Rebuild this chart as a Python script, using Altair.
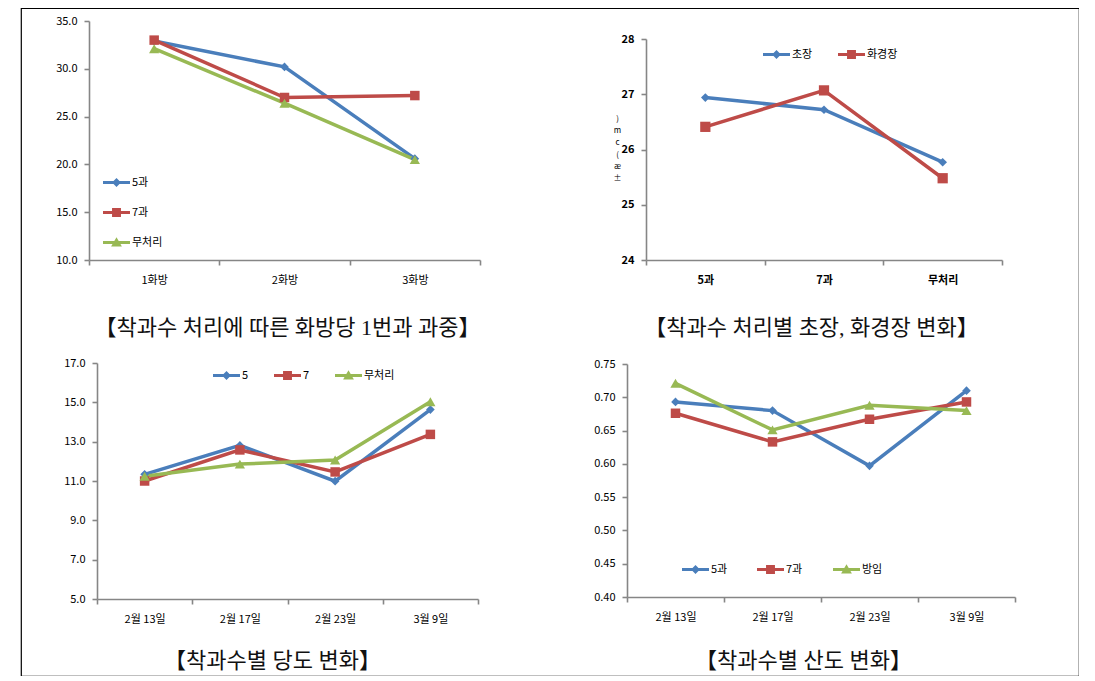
import altair as alt
import pandas as pd

# ---------------- data ----------------
# Panel 1: 착과수 처리에 따른 화방당 1번과 과중
p1_cats = ["1화방", "2화방", "3화방"]
p1_names = ["5과", "7과", "무처리"]
p1_fruit5 = [32.9, 30.2, 20.6]
p1_fruit7 = [33.0, 27.0, 27.2]
p1_control = [32.1, 26.4, 20.5]
p1_ticks = [10, 15, 20, 25, 30, 35]

# Panel 2: 착과수 처리별 초장, 화경장 변화
p2_cats = ["5과", "7과", "무처리"]
p2_names = ["초장", "화경장"]
p2_plant = [26.94, 26.72, 25.77]
p2_truss = [26.41, 27.07, 25.48]
p2_ticks = [24, 25, 26, 27, 28]

# Panel 3: 착과수별 당도 변화
p3_cats = ["2월 13일", "2월 17일", "2월 23일", "3월 9일"]
p3_names = ["5", "7", "무처리"]
p3_fruit5 = [11.34, 12.81, 10.99, 14.63]
p3_fruit7 = [11.00, 12.58, 11.46, 13.37]
p3_control = [11.24, 11.86, 12.07, 15.03]
p3_ticks = [5, 7, 9, 11, 13, 15, 17]

# Panel 4: 착과수별 산도 변화
p4_cats = ["2월 13일", "2월 17일", "2월 23일", "3월 9일"]
p4_names = ["5과", "7과", "방임"]
p4_fruit5 = [0.693, 0.680, 0.597, 0.710]
p4_fruit7 = [0.676, 0.633, 0.667, 0.693]
p4_free = [0.721, 0.651, 0.688, 0.680]
p4_ticks = [0.40, 0.45, 0.50, 0.55, 0.60, 0.65, 0.70, 0.75]

captions = [
    "【착과수 처리에 따른 화방당 1번과 과중】",
    "【착과수 처리별 초장, 화경장 변화】",
    "【착과수별 당도 변화】",
    "【착과수별 산도 변화】",
]
p2_ytitle = [")", "m", "c", "(", "æ", "±"]

# ---------------- style ----------------
BLUE, RED, GREEN = "#4A7EBB", "#BE4B48", "#98B954"
MARKERS = ["diamond", "square", "triangle-up"]
MARKER_SIZES = [75, 105, 105]
BAR = "M-1,-0.12H1V0.12H-1Z"
LEG_PATHS = [
    BAR + "M0,-0.33L0.33,0L0,0.33L-0.33,0Z",
    BAR + "M-0.33,-0.33H0.33V0.33H-0.33Z",
    BAR + "M0,-0.38L0.4,0.3H-0.4Z",
]
FONT = "Noto Sans CJK KR"
CAP_FONT = "Liberation Serif, Noto Sans CJK KR"
W, H = 1058, 668
OX, OY = 21, 8  # page position of the frame


def long_df(cats, names, series):
    rows = []
    for name, vals in zip(names, series):
        for c, v in zip(cats, vals):
            rows.append({"cat": c, "series": name, "val": v})
    return pd.DataFrame(rows)


def panel(df, cats, names, colors, xrange, yrange, ydomain, yticks, yfmt,
          caption, cap_x, cap_y, legend_pos, bold=False, ytitle=None, ytitle_opts=None):
    n = len(names)
    weight = "bold" if bold else "normal"
    x = alt.X(
        "cat:N", sort=cats,
        scale=alt.Scale(type="band", domain=cats, range=xrange,
                        paddingInner=0, paddingOuter=0),
        axis=alt.Axis(orient="bottom", offset=-(H - yrange[0]), tickBand="extent",
                      labelPadding=9, labelAngle=0, labelFontWeight=weight,
                      title=caption, titleX=cap_x, titleY=cap_y,
                      titleFont=CAP_FONT, titleFontSize=22, titleFontWeight="normal",
                      titleBaseline="middle", titleAlign="center", titleColor="#111"),
    )
    yaxis_kw = dict(orient="left", offset=-xrange[0], values=yticks, format=yfmt,
                    labelPadding=7, labelFontWeight=weight)
    if ytitle is not None:
        yaxis_kw.update(title=ytitle, **ytitle_opts)
    else:
        yaxis_kw.update(title=None)
    y = alt.Y("val:Q",
              scale=alt.Scale(domain=ydomain, range=yrange, nice=False, zero=False),
              axis=alt.Axis(**yaxis_kw))
    cscale = alt.Scale(domain=names, range=colors)
    base = alt.Chart(df)
    lines = base.mark_line(strokeWidth=3.5).encode(
        x=x, y=y, color=alt.Color("series:N", scale=cscale, legend=None))
    points = base.mark_point(filled=True, opacity=1).encode(
        x=x, y=y, color=alt.Color("series:N", scale=cscale, legend=None),
        shape=alt.Shape("series:N", scale=alt.Scale(domain=names, range=MARKERS[:n]), legend=None),
        size=alt.Size("series:N", scale=alt.Scale(domain=names, range=MARKER_SIZES[:n]), legend=None),
    )
    layers = [lines, points]
    for i, (name, col, (lx, ly)) in enumerate(zip(names, colors, legend_pos)):
        leg = alt.Legend(orient="none", title=None, legendX=lx - OX, legendY=ly - OY - 13,
                         symbolType=LEG_PATHS[i], symbolSize=729, symbolStrokeWidth=0,
                         symbolFillColor=col, symbolOpacity=1,
                         labelFont=FONT, labelFontSize=11, labelColor="#000", labelOffset=2)
        layers.append(
            base.transform_filter(alt.datum.series == name)
            .mark_point(filled=True, opacity=0)
            .encode(x=x, y=y,
                    color=alt.Color("series:N", scale=alt.Scale(domain=[name], range=[col]),
                                    legend=leg))
        )
    return alt.layer(*layers).resolve_scale(color="independent").resolve_legend(color="independent")


df1 = long_df(p1_cats, p1_names, [p1_fruit5, p1_fruit7, p1_control])
df2 = long_df(p2_cats, p2_names, [p2_plant, p2_truss])
df3 = long_df(p3_cats, p3_names, [p3_fruit5, p3_fruit7, p3_control])
df4 = long_df(p4_cats, p4_names, [p4_fruit5, p4_fruit7, p4_free])

c1 = panel(df1, p1_cats, p1_names, [BLUE, RED, GREEN],
           xrange=[89 - OX, 480 - OX], yrange=[260 - OY, 21 - OY], ydomain=[10, 35],
           yticks=p1_ticks, yfmt=".1f", caption=captions[0], cap_x=287 - OX, cap_y=67,
           legend_pos=[(103, 182), (103, 212), (103, 242)])

c2 = panel(df2, p2_cats, p2_names, [BLUE, RED],
           xrange=[646 - OX, 1002 - OX], yrange=[260 - OY, 39 - OY], ydomain=[24, 28],
           yticks=p2_ticks, yfmt="d", caption=captions[1], cap_x=811 - OX, cap_y=67,
           legend_pos=[(763, 54), (838, 54)],
           bold=True, ytitle=p2_ytitle,
           ytitle_opts=dict(titleAngle=0, titleX=-29, titleY=114 - OY, titleFontSize=8,
                            titleLineHeight=12, titleFontWeight="normal", titleBaseline="top",
                            titleAlign="center", titleFont=FONT, titleColor="#000"))

c3 = panel(df3, p3_cats, p3_names, [BLUE, RED, GREEN],
           xrange=[97 - OX, 478 - OX], yrange=[599 - OY, 363 - OY], ydomain=[5, 17],
           yticks=p3_ticks, yfmt=".1f", caption=captions[2], cap_x=272 - OX, cap_y=61,
           legend_pos=[(213, 375), (274, 375), (335, 375)])

c4 = panel(df4, p4_cats, p4_names, [BLUE, RED, GREEN],
           xrange=[627 - OX, 1015 - OX], yrange=[597 - OY, 364 - OY], ydomain=[0.40, 0.75],
           yticks=p4_ticks, yfmt=".2f", caption=captions[3], cap_x=803 - OX, cap_y=63,
           legend_pos=[(682, 569), (757, 569), (833, 569)])

chart = (
    alt.layer(c1, c2, c3, c4)
    .resolve_scale(x="independent", y="independent", color="independent",
                   shape="independent", size="independent")
    .resolve_axis(x="independent", y="independent")
    .resolve_legend(color="independent", shape="independent")
    .properties(width=W, height=H, padding={"left": 13, "top": 0, "right": 0, "bottom": 0},
                background="white")
    .configure_view(stroke="#000", strokeWidth=1.2)
    .configure_axis(grid=False, domainColor="#868686", domainWidth=1.6,
                    tickColor="#868686", tickWidth=1.6, tickSize=5,
                    labelFont=FONT, labelFontSize=11, labelColor="#000")
)

chart.save("out.html", embed_options={"renderer": "svg", "actions": False})
